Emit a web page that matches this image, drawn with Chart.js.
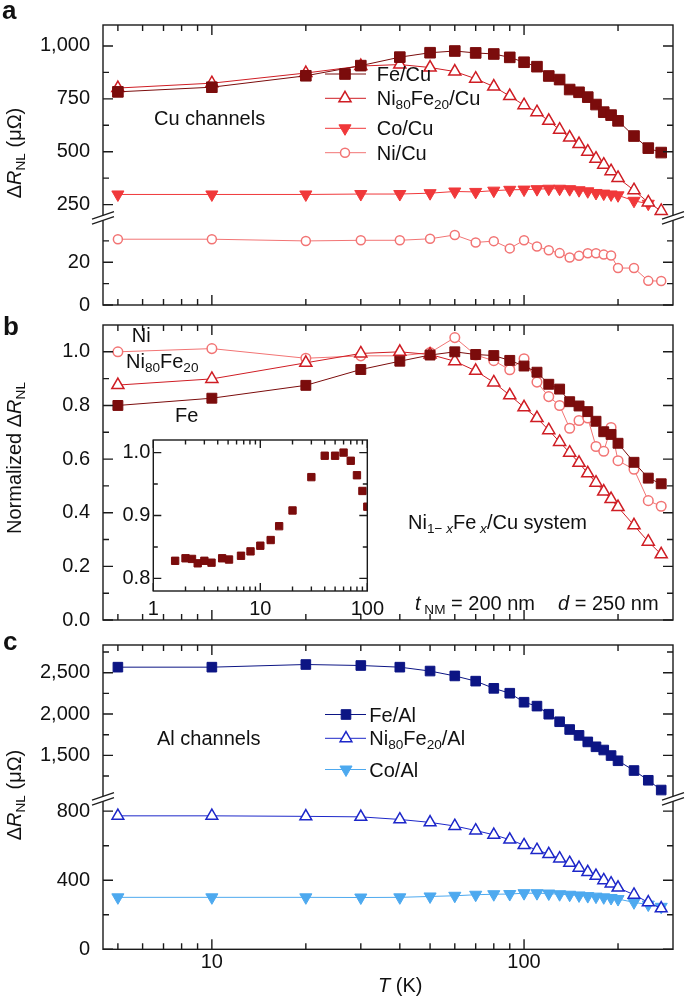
<!DOCTYPE html>
<html><head><meta charset="utf-8">
<script src="https://cdn.jsdelivr.net/npm/chart.js@4/dist/chart.umd.min.js"></script>
<style>
html,body{margin:0;padding:0;background:#fff;}
#wrap{position:relative;width:685px;height:1005px;overflow:hidden;font-family:'Liberation Sans',Arial,Helvetica,sans-serif;color:#111;}
canvas{position:absolute;}
.t{position:absolute;white-space:nowrap;line-height:0;font-size:20px;}
.s{font-size:0.68em;vertical-align:-0.32em;line-height:0;}
.pl{font-weight:bold;font-size:26px;}
.yt{position:absolute;width:0;height:0;}
.yt > span{position:absolute;left:0;top:0;white-space:nowrap;line-height:0;font-size:20px;transform-origin:0 0;transform:rotate(-90deg) translateX(-50%);}
</style></head>
<body>
<div id="wrap">
<canvas id="cA" width="685" height="330" style="left:0;top:0;width:685px;height:330px"></canvas>
<canvas id="cB" width="685" height="345" style="left:0;top:300px;width:685px;height:345px"></canvas>
<canvas id="cC" width="685" height="385" style="left:0;top:620px;width:685px;height:385px"></canvas>
<canvas id="cI" width="290" height="200" style="left:100px;top:425px;width:290px;height:200px"></canvas>

<div class="t pl" style="left:2px;top:9.7px">a</div>
<div class="t pl" style="left:3px;top:326px">b</div>
<div class="t pl" style="left:3px;top:641px">c</div>

<div class="yt" style="left:14px;top:153px"><span>Δ<i>R</i><span class="s">NL</span> (μΩ)</span></div>
<div class="yt" style="left:14px;top:458px"><span>Normalized Δ<i>R</i><span class="s">NL</span></span></div>
<div class="yt" style="left:14px;top:795px"><span>Δ<i>R</i><span class="s">NL</span> (μΩ)</span></div>

<div class="t" style="left:154px;top:118px">Cu channels</div>
<div class="t" style="left:376.7px;top:74px">Fe/Cu</div>
<div class="t" style="left:376.7px;top:98.3px">Ni<span class="s">80</span>Fe<span class="s">20</span>/Cu</div>
<div class="t" style="left:376.7px;top:128.3px">Co/Cu</div>
<div class="t" style="left:376.7px;top:152.7px">Ni/Cu</div>

<div class="t" style="left:131.7px;top:335px">Ni</div>
<div class="t" style="left:126px;top:360.7px">Ni<span class="s">80</span>Fe<span class="s">20</span></div>
<div class="t" style="left:175px;top:415px">Fe</div>
<div class="t" style="left:408px;top:521.7px">Ni<span class="s">1− <i>x</i></span>Fe<span class="s"> <i>x</i></span>/Cu system</div>
<div class="t" style="left:415px;top:603px"><i>t</i><span class="s"> NM</span> = 200 nm</div>
<div class="t" style="left:558px;top:603px"><i>d</i> = 250 nm</div>

<div class="t" style="left:157px;top:738px">Al channels</div>
<div class="t" style="left:369.3px;top:714.5px">Fe/Al</div>
<div class="t" style="left:369.3px;top:738.3px">Ni<span class="s">80</span>Fe<span class="s">20</span>/Al</div>
<div class="t" style="left:369.3px;top:769.5px">Co/Al</div>

<div class="t" style="left:378px;top:985px"><i>T</i> (K)</div>
</div>

<script>
// ---------------- DATA ----------------
const T = [5,10,20,30,40,50,60,70,80,90,100,110,120,130,140,150,160,170,180,190,200,225,250,275];

// panel a (Cu channels, μΩ)
const feCu   = [783,805,859,907,947,968,976,967,962,946,923,902,858,841,794,781,758,723,687,673,646,574,517,496];
const nifeCu = [801,824,872,905,912,898,879,845,808,763,720,687,646,604,567,536,500,467,439,408,376,318,260,220];
const coCu   = [298,298,298,300,300,304,312,310,316,320,321,323,325,325,323,318,313,305,302,298,294,268,254];
const niCu   = [30.8,30.8,30.0,30.3,30.3,31.0,32.8,29.3,29.9,26.5,30.3,27.4,25.6,24.3,22.2,23.0,24.2,24.2,23.6,23.2,17.3,17.3,11.3,11.2];

// panel b (normalized)
const feNorm   = [0.80,0.827,0.875,0.934,0.965,0.988,1.0,0.99,0.986,0.968,0.947,0.924,0.879,0.861,0.814,0.798,0.777,0.741,0.702,0.692,0.659,0.588,0.529,0.508];
const nifeNorm = [0.876,0.899,0.959,0.994,1.0,0.99,0.965,0.929,0.886,0.838,0.793,0.753,0.708,0.664,0.624,0.586,0.547,0.512,0.479,0.451,0.421,0.353,0.292,0.245];
const niNorm   = [1.0,1.012,0.976,0.985,0.985,0.997,1.053,0.988,0.967,0.933,0.974,0.887,0.833,0.80,0.715,0.744,0.753,0.647,0.629,0.718,0.594,0.562,0.445,0.424];

// inset (Fe, normalized)
const insetT  = [1.6,2.0,2.3,2.6,3.0,3.5,4.4,5.1,6.6,8.1,10,12.5,15,20,30,40,50,60,70,80,90,100];
const insetFe = [0.828,0.832,0.831,0.824,0.828,0.825,0.832,0.830,0.836,0.843,0.852,0.861,0.883,0.908,0.961,0.995,0.995,1.0,0.987,0.964,0.939,0.914];

// panel c (Al channels, μΩ)
const feAl   = [2567,2567,2599,2587,2567,2520,2461,2398,2311,2252,2143,2096,1998,1907,1813,1742,1663,1604,1565,1498,1435,1317,1199,1081];
const nifeAl = [773,773,770,767,752,735,714,688,663,635,603,575,551,526,500,472,447,425,400,381,357,316,272,237];
const coAl   = [301,301,301,300,301,306,310,316,319,320,325,325,323,319,316,312,308,305,301,297,291,272,259,246];

// ticks
const xTickVals = [10,100];
const xTickLabels = ['10','100'];
const xMinorTicks = [5,6,7,8,9,20,30,40,50,60,70,80,90,200];
const aUpperTicks = [250,500,750,1000];
const aUpperLabels = ['250','500','750','1,000'];
const aUpperMinor = [375,625,875];
const aLowerTicks = [0,20];
const aLowerLabels = ['0','20'];
const aLowerMinor = [10,30];
const bTicks = [0,0.2,0.4,0.6,0.8,1.0];
const bLabels = ['0.0','0.2','0.4','0.6','0.8','1.0'];
const bMinor = [0.1,0.3,0.5,0.7,0.9];
const cUpperTicks = [1500,2000,2500];
const cUpperLabels = ['1,500','2,000','2,500'];
const cUpperMinor = [1250,1750,2250,2750];
const cLowerTicks = [0,400,800];
const cLowerLabels = ['0','400','800'];
const cLowerMinor = [200,600];
const insetXTicks = [1,10,100];
const insetXLabels = ['1','10','100'];
const insetXMinor = [2,3,4,5,6,7,8,9,20,30,40,50,60,70,80,90];
const insetYTicks = [0.8,0.9,1.0];
const insetYLabels = ['0.8','0.9','1.0'];
const insetYMinor = [0.85,0.95];

// colours
const C = { maroon:'#7b0c0c', red:'#cf1d24', coral:'#f0383a', pink:'#f27474',
            navy:'#0c1584', blue:'#1d27c9', sky:'#4da9ef' };

// ---------------- HELPERS ----------------
Chart.defaults.font.family = "'Liberation Sans', Arial, Helvetica, sans-serif";
Chart.defaults.font.size = 20;
Chart.defaults.color = '#111';

function mk(label, xs, ys, axis, color, style, r, open, rot, showLine) {
  return {
    label, yAxisID: axis,
    data: ys.map((v, i) => ({ x: xs[i], y: v })),
    borderColor: color, borderWidth: 1, backgroundColor: color,
    pointStyle: style, pointRadius: r, pointHoverRadius: r, pointRotation: rot || 0,
    pointBackgroundColor: open ? '#ffffff' : color, pointBorderColor: color,
    pointBorderWidth: open ? 1.5 : 1, tension: 0, fill: false,
    showLine: showLine !== false
  };
}

function marker(ctx, style, x, y, r, rot, fill, stroke, bw) {
  ctx.save(); ctx.beginPath();
  if (style === 'rect') { const h = r * Math.SQRT1_2; ctx.rect(x - h, y - h, 2 * h, 2 * h); }
  else if (style === 'circle') { ctx.arc(x, y, r, 0, 2 * Math.PI); }
  else { const s = rot === 180 ? -1 : 1, w = r * Math.sin(2 * Math.PI / 3);
    ctx.moveTo(x, y - s * r); ctx.lineTo(x + w, y + s * r / 2); ctx.lineTo(x - w, y + s * r / 2); ctx.closePath(); }
  ctx.fillStyle = fill; ctx.fill(); ctx.lineWidth = bw; ctx.strokeStyle = stroke; ctx.stroke();
  ctx.restore();
}

function drawBreak(ctx, x, y) {
  const dx = 11, k = 0.34, g = 2.5;
  ctx.save();
  ctx.fillStyle = '#fff';
  ctx.fillRect(x - 2, y - g, 4, 2 * g);
  ctx.beginPath();
  [-g, g].forEach(off => { ctx.moveTo(x - dx, y + off + dx * k); ctx.lineTo(x + dx, y + off - dx * k); });
  ctx.strokeStyle = '#1e1e1e'; ctx.lineWidth = 1.3; ctx.stroke();
  ctx.restore();
}

const framePlugin = {
  id: 'frame',
  afterDraw(chart, args, o) {
    if (!o || !o.y) return;
    const ctx = chart.ctx, ca = chart.chartArea;
    ctx.save();
    ctx.strokeStyle = '#1a1a1a'; ctx.lineWidth = 1.4;
    const xs = chart.scales.x;
    const tickX = (vals, len) => { ctx.beginPath(); vals.forEach(v => {
      const p = xs.getPixelForValue(v); if (p < ca.left - 0.5 || p > ca.right + 0.5) return;
      ctx.moveTo(p, ca.top); ctx.lineTo(p, ca.top + len); ctx.moveTo(p, ca.bottom); ctx.lineTo(p, ca.bottom - len); });
      ctx.stroke(); };
    tickX(o.xMajor, o.majorLen); tickX(o.xMinor, o.minorLen);
    o.y.forEach(a => { const s = chart.scales[a.id];
      const tk = (vals, len) => { ctx.beginPath(); vals.forEach(v => { const p = s.getPixelForValue(v);
        ctx.moveTo(ca.left, p); ctx.lineTo(ca.left + len, p); ctx.moveTo(ca.right, p); ctx.lineTo(ca.right - len, p); });
        ctx.stroke(); };
      tk(a.major, o.majorLen); tk(a.minor, o.minorLen); });
    ctx.strokeRect(ca.left, ca.top, ca.width, ca.height);
    if (o.breakAt) { const yb = chart.scales[o.breakAt].bottom; drawBreak(ctx, ca.left, yb); drawBreak(ctx, ca.right, yb); }
    if (o.legend) { const L = o.legend;
      L.rows.forEach(r => { const ds = chart.data.datasets[r.ds];
        ctx.beginPath(); ctx.strokeStyle = ds.borderColor; ctx.lineWidth = ds.borderWidth;
        ctx.moveTo(L.x1, r.y); ctx.lineTo(L.x2, r.y); ctx.stroke();
        marker(ctx, ds.pointStyle, L.xm, r.y, ds.pointRadius, ds.pointRotation, ds.pointBackgroundColor, ds.pointBorderColor, ds.pointBorderWidth); });
    }
    ctx.restore();
  }
};
Chart.register(framePlugin);

function yAxis(min, max, ticks, labels, stack, weight, width, pad) {
  const o = {
    type: 'linear', position: 'left', min, max,
    grid: { display: false, drawTicks: false }, border: { display: false },
    ticks: { padding: pad, color: '#111', font: { size: 20 }, autoSkip: false,
             callback: (v, i) => labels[i] },
    afterBuildTicks: s => { s.ticks = ticks.map(v => ({ value: v })); },
    afterFit: s => { s.width = width; }
  };
  if (stack) { o.stack = stack; o.stackWeight = weight; }
  return o;
}
function xAxis(min, max, show, h, ticks, labels, pad) {
  return {
    type: 'logarithmic', min, max, display: show,
    grid: { display: false, drawTicks: false }, border: { display: false },
    ticks: { padding: pad, color: '#111', font: { size: 20 }, autoSkip: false, maxRotation: 0,
             callback: (v, i) => labels ? labels[i] : '' },
    afterBuildTicks: s => { if (ticks) s.ticks = ticks.map(v => ({ value: v })); },
    afterFit: s => { s.height = h; }
  };
}
const base = { responsive: false, animation: false, events: [] };
const XMIN = 4.48, XMAX = 300;

// ---------------- PANEL A ----------------
new Chart(document.getElementById('cA'), {
  type: 'line',
  data: { datasets: [
    mk('Fe/Cu', T, feCu, 'yA1', C.maroon, 'rect', 7.5, false),
    mk('Ni80Fe20/Cu', T, nifeCu, 'yA1', C.red, 'triangle', 7, true),
    mk('Co/Cu', T, coCu, 'yA1', C.coral, 'triangle', 7, false, 180),
    mk('Ni/Cu', T, niCu, 'yA2', C.pink, 'circle', 4.5, true)
  ]},
  options: Object.assign({}, base, {
    layout: { padding: { left: 0, right: 12, top: 1, bottom: 18.3 } },
    plugins: { legend: { display: false }, tooltip: { enabled: false },
      frame: { xMajor: xTickVals, xMinor: xMinorTicks, majorLen: 10, minorLen: 6,
        y: [{ id: 'yA1', major: aUpperTicks, minor: aUpperMinor }, { id: 'yA2', major: aLowerTicks, minor: aLowerMinor }],
        breakAt: 'yA1',
        legend: { x1: 325, x2: 366, xm: 345, rows: [{ y: 74, ds: 0 }, { y: 98.3, ds: 1 }, { y: 128.3, ds: 2 }, { y: 152.7, ds: 3 }] } } },
    scales: {
      x: xAxis(XMIN, XMAX, false, 0, null, null, 0),
      yA2: yAxis(0, 40.8, aLowerTicks, aLowerLabels, 'a', 96.7, 103, 13),
      yA1: yAxis(187.4, 1099, aUpperTicks, aUpperLabels, 'a', 214, 103, 13)
    }
  })
});

// ---------------- PANEL B ----------------
new Chart(document.getElementById('cB'), {
  type: 'line',
  data: { datasets: [
    mk('Fe', T, feNorm, 'y', C.maroon, 'rect', 7, false),
    mk('Ni80Fe20', T, nifeNorm, 'y', C.red, 'triangle', 7, true),
    mk('Ni', T, niNorm, 'y', C.pink, 'circle', 4.8, true)
  ]},
  options: Object.assign({}, base, {
    layout: { padding: { left: 0, right: 12, top: 18.3, bottom: 15 } },
    plugins: { legend: { display: false }, tooltip: { enabled: false },
      frame: { xMajor: xTickVals, xMinor: xMinorTicks, majorLen: 10, minorLen: 6,
        y: [{ id: 'y', major: bTicks, minor: bMinor }] } },
    scales: {
      x: xAxis(XMIN, XMAX, false, 0, null, null, 0),
      y: yAxis(0, 1.1, bTicks, bLabels, null, 1, 103, 13)
    }
  })
});

// ---------------- PANEL C ----------------
new Chart(document.getElementById('cC'), {
  type: 'line',
  data: { datasets: [
    mk('Fe/Al', T, feAl, 'yC1', C.navy, 'rect', 6.8, false),
    mk('Ni80Fe20/Al', T, nifeAl, 'yC2', C.blue, 'triangle', 6.8, true),
    mk('Co/Al', T, coAl, 'yC2', C.sky, 'triangle', 7, false, 180)
  ]},
  options: Object.assign({}, base, {
    layout: { padding: { left: 0, right: 12, top: 17.3, bottom: 0 } },
    plugins: { legend: { display: false }, tooltip: { enabled: false },
      frame: { xMajor: xTickVals, xMinor: xMinorTicks, majorLen: 10, minorLen: 6,
        y: [{ id: 'yC1', major: cUpperTicks, minor: cUpperMinor }, { id: 'yC2', major: cLowerTicks, minor: cLowerMinor }],
        breakAt: 'yC1',
        legend: { x1: 325, x2: 366, xm: 346, rows: [{ y: 94.5, ds: 0 }, { y: 118.3, ds: 1 }, { y: 149.5, ds: 2 }] } } },
    scales: {
      x: xAxis(XMIN, XMAX, true, 55.7, xTickVals, xTickLabels, 1),
      yC2: yAxis(0, 871.6, cLowerTicks, cLowerLabels, 'c', 154.3, 103, 13),
      yC1: yAxis(975, 2835, cUpperTicks, cUpperLabels, 'c', 157.7, 103, 13)
    }
  })
});

// ---------------- INSET ----------------
new Chart(document.getElementById('cI'), {
  type: 'line',
  data: { datasets: [ mk('Fe inset', insetT, insetFe, 'y', C.maroon, 'rect', 5.2, false, 0, false) ] },
  options: Object.assign({}, base, {
    layout: { padding: { left: 0, right: 12.7, top: 13.3, bottom: 0 } },
    plugins: { legend: { display: false }, tooltip: { enabled: false },
      frame: { xMajor: insetXTicks, xMinor: insetXMinor, majorLen: 8, minorLen: 4.5,
        y: [{ id: 'y', major: insetYTicks, minor: insetYMinor }] } },
    scales: {
      x: xAxis(1, 100, true, 34, insetXTicks, insetXLabels, 6),
      y: yAxis(0.78, 1.02, insetYTicks, insetYLabels, null, 1, 53.3, 3)
    }
  })
});
</script>
</body></html>
